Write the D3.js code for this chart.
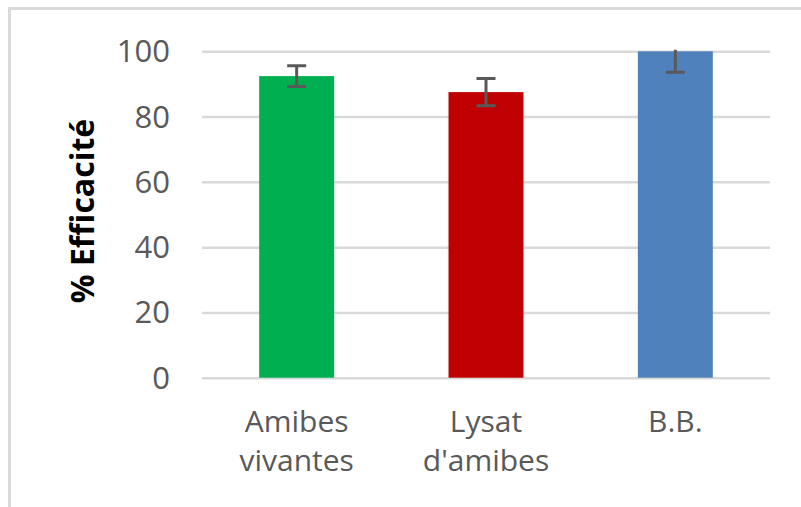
<!DOCTYPE html>
<html>
<head>
<meta charset="utf-8">
<script src="https://cdn.jsdelivr.net/npm/d3@7"></script>
<style>
  html, body { margin: 0; padding: 0; background: #fff; }
  svg { display: block; }
</style>
</head>
<body>
<svg id="chart" width="801" height="507"></svg>
<script>
// ---- data ----
const categories = ["Amibes vivantes", "Lysat d'amibes", "B.B."];
const categoryLines = [["Amibes", "vivantes"], ["Lysat", "d'amibes"], ["B.B."]];
const values = [92.4, 87.5, 100];
const errors = [3.2, 4.2, 6.4];
const colors = ["#00B050", "#C00000", "#4F81BD"];
const yTicks = [0, 20, 40, 60, 80, 100];
const yTitle = "% Efficacité";

// ---- layout ----
const svg = d3.select("#chart");
const plot = { left: 202, right: 770, top: 51.3, bottom: 377.7 };
const font = "'Open Sans', 'Noto Sans', sans-serif";
const textColor = "#595959";
const gridColor = "#D9D9D9";

// outer chart border (only top & left visible in the crop)
svg.append("rect")
  .attr("x", 9.5).attr("y", 8.5)
  .attr("width", 830).attr("height", 540)
  .attr("fill", "#fff")
  .attr("stroke", "#D9D9D9")
  .attr("stroke-width", 3);

const x = d3.scaleBand().domain(categories).range([plot.left, plot.right]).padding(0);
const y = d3.scaleLinear().domain([0, 100]).range([plot.bottom, plot.top]);
const barW = x.bandwidth() * 0.396;

// y axis with gridlines
const yAxis = svg.append("g")
  .attr("transform", `translate(${plot.left},0)`)
  .call(d3.axisLeft(y).tickValues(yTicks).tickSize(-(plot.right - plot.left)).tickPadding(32).tickFormat(d3.format("d")));
yAxis.select(".domain").remove();
yAxis.selectAll(".tick line").attr("stroke", gridColor).attr("stroke-width", 2.5);
yAxis.selectAll(".tick text")
  .attr("fill", textColor)
  .attr("font-family", font)
  .attr("font-size", 31)
  .attr("dy", "0.34em");

// bars
svg.append("g").selectAll("rect")
  .data(categories)
  .join("rect")
  .attr("x", d => x(d) + x.bandwidth() / 2 - barW / 2)
  .attr("y", (d, i) => y(values[i]))
  .attr("width", barW)
  .attr("height", (d, i) => y(0) - y(values[i]))
  .attr("fill", (d, i) => colors[i]);

// error bars (clipped at the plot top)
svg.append("clipPath").attr("id", "plotclip")
  .append("rect")
  .attr("x", plot.left).attr("y", plot.top - 1.5)
  .attr("width", plot.right - plot.left).attr("height", plot.bottom - plot.top + 1.5);

const capW = 19;
const eg = svg.append("g").attr("clip-path", "url(#plotclip)")
  .attr("stroke", "#595959").attr("stroke-width", 3).attr("fill", "none");
categories.forEach((c, i) => {
  const cx = x(c) + x.bandwidth() / 2;
  const hi = y(values[i] + errors[i]);
  const lo = y(values[i] - errors[i]);
  eg.append("line").attr("x1", cx).attr("x2", cx).attr("y1", hi).attr("y2", lo);
  eg.append("line").attr("x1", cx - capW / 2).attr("x2", cx + capW / 2).attr("y1", hi).attr("y2", hi);
  eg.append("line").attr("x1", cx - capW / 2).attr("x2", cx + capW / 2).attr("y1", lo).attr("y2", lo);
});

// x axis labels
const xAxis = svg.append("g")
  .attr("transform", `translate(0,${plot.bottom})`)
  .call(d3.axisBottom(x).tickSize(0).tickFormat(""));
xAxis.select(".domain").remove();
xAxis.selectAll(".tick").each(function(d, i) {
  const t = d3.select(this).append("text")
    .attr("fill", textColor)
    .attr("font-family", font)
    .attr("font-size", 30)
    .attr("text-anchor", "middle");
  categoryLines[i].forEach((line, j) => {
    t.append("tspan").attr("x", 0).attr("y", 54 + j * 39.5).text(line);
  });
});

// y axis title
svg.append("text")
  .attr("transform", "translate(94,211) rotate(-90)")
  .attr("text-anchor", "middle")
  .attr("font-family", font)
  .attr("font-weight", "bold")
  .attr("font-size", 32)
  .attr("fill", "#000")
  .text(yTitle);
</script>
</body>
</html>
